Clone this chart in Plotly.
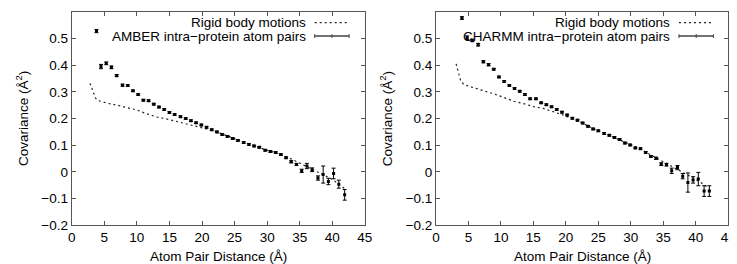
import plotly.graph_objects as go

# ---------------- data ----------------
amber_x = [3.8, 4.5, 5.3, 6.1, 6.9, 7.8, 8.6, 9.4, 10.2, 11.0, 11.8, 12.6, 13.4, 14.2, 15.0,
           15.8, 16.7, 17.5, 18.3, 19.1, 19.9, 20.7, 21.5, 22.3, 23.1, 23.9, 24.7, 25.5,
           26.4, 27.2, 28.0, 28.8, 29.7, 30.5, 31.3, 32.1, 32.9, 33.7, 34.5, 35.3, 36.1,
           36.9, 37.8, 38.6, 39.4, 40.2, 41.0, 41.9]
amber_y = [0.528, 0.395, 0.407, 0.392, 0.361, 0.325, 0.324, 0.304, 0.290, 0.269, 0.267,
           0.254, 0.243, 0.234, 0.223, 0.215, 0.207, 0.200, 0.192, 0.184, 0.176, 0.167,
           0.158, 0.150, 0.140, 0.133, 0.125, 0.118, 0.110, 0.103, 0.097, 0.092, 0.081,
           0.076, 0.073, 0.065, 0.053, 0.038, 0.028, 0.004, 0.022, 0.008, -0.023, -0.010,
           -0.036, -0.006, -0.046, -0.086]
amber_err = [0.006, 0.008, 0.005, 0.005, 0.004, 0.004, 0.003, 0.003, 0.003, 0.003, 0.003,
             0.003, 0.003, 0.003, 0.003, 0.003, 0.003, 0.003, 0.003, 0.003, 0.003, 0.003,
             0.003, 0.003, 0.003, 0.003, 0.003, 0.003, 0.003, 0.003, 0.003, 0.003, 0.003,
             0.003, 0.003, 0.003, 0.003, 0.004, 0.004, 0.006, 0.010, 0.007, 0.008, 0.032,
             0.012, 0.020, 0.015, 0.020]

charmm_x = [4.0, 4.8, 5.6, 6.5, 7.3, 8.1, 8.9, 9.7, 10.5, 11.3, 12.1, 12.9, 13.7, 14.5,
            15.4, 16.2, 17.0, 17.8, 18.6, 19.4, 20.2, 21.0, 21.8, 22.6, 23.4, 24.2, 25.0,
            25.9, 26.7, 27.5, 28.3, 29.1, 29.9, 30.7, 31.5, 32.3, 33.1, 33.9, 34.7, 35.5,
            36.3, 37.2, 38.0, 38.8, 39.6, 40.4, 41.3, 42.1]
charmm_y = [0.577, 0.503, 0.493, 0.477, 0.413, 0.402, 0.385, 0.356, 0.339, 0.324, 0.313,
            0.302, 0.290, 0.274, 0.274, 0.259, 0.252, 0.244, 0.234, 0.224, 0.213, 0.201,
            0.194, 0.183, 0.171, 0.161, 0.154, 0.144, 0.137, 0.129, 0.121, 0.108, 0.101,
            0.090, 0.087, 0.073, 0.058, 0.051, 0.029, 0.027, 0.004, 0.016, -0.016, -0.040,
            -0.030, -0.027, -0.072, -0.072]
charmm_err = [0.005, 0.007, 0.005, 0.005, 0.004, 0.004, 0.003, 0.003, 0.003, 0.003, 0.003,
              0.003, 0.003, 0.003, 0.003, 0.003, 0.003, 0.003, 0.003, 0.003, 0.003, 0.003,
              0.003, 0.003, 0.003, 0.003, 0.003, 0.003, 0.003, 0.003, 0.003, 0.003, 0.003,
              0.003, 0.003, 0.003, 0.003, 0.004, 0.005, 0.005, 0.010, 0.008, 0.010, 0.036,
              0.012, 0.025, 0.020, 0.020]

rigid_amber_x = [2.8, 3.3, 3.7, 4.3, 5.5, 7.0, 8.5, 10.0, 11.5, 13.0, 14.5, 16.0, 17.5, 19.0,
                 20.5, 22.0, 23.5, 25.0, 26.5, 28.0, 29.5, 31.0, 32.5, 34.0, 35.5, 37.0,
                 38.5, 40.0, 41.5, 42.0]
rigid_amber_y = [0.332, 0.300, 0.275, 0.266, 0.257, 0.250, 0.242, 0.232, 0.218, 0.206, 0.199,
                 0.190, 0.182, 0.172, 0.162, 0.152, 0.138, 0.124, 0.110, 0.097, 0.085, 0.074,
                 0.062, 0.045, 0.027, 0.010, -0.008, -0.028, -0.055, -0.065]

rigid_charmm_x = [3.1, 3.4, 3.8, 4.3, 5.9, 7.5, 9.0, 10.5, 12.0, 13.5, 15.0, 16.5, 18.0, 19.5,
                  21.0, 22.5, 24.0, 25.5, 27.0, 28.5, 30.0, 31.5, 33.0, 34.5, 36.0, 37.5,
                  39.0, 40.5, 42.0]
rigid_charmm_y = [0.405, 0.375, 0.342, 0.327, 0.314, 0.303, 0.292, 0.279, 0.265, 0.256, 0.245,
                  0.238, 0.227, 0.214, 0.199, 0.184, 0.165, 0.149, 0.134, 0.118, 0.100, 0.086,
                  0.065, 0.045, 0.022, 0.002, -0.018, -0.035, -0.060]

x_ticks = [0, 5, 10, 15, 20, 25, 30, 35, 40, 45]
y_ticks = [-0.2, -0.1, 0, 0.1, 0.2, 0.3, 0.4, 0.5, 0.6]
y_tick_text = ["\u22120.2", "\u22120.1", "0", "0.1", "0.2", "0.3", "0.4", "0.5", "0.6"]

labels = ["AMBER intra\u2212protein atom pairs", "CHARMM intra\u2212protein atom pairs"]
rigid_label = "Rigid body motions"

# ---------------- figure ----------------
W, H = 737, 264
FONT = "Liberation Sans, Arial, Helvetica, sans-serif"
FS = 13.5
FRAME = "#555555"

def px(x):
    return x / W

def py(y):
    return (H - y) / H

fig = go.Figure()

panels = [
    ("x", "y", rigid_amber_x, rigid_amber_y, amber_x, amber_y, amber_err),
    ("x2", "y2", rigid_charmm_x, rigid_charmm_y, charmm_x, charmm_y, charmm_err),
]
for xa, ya, rx, ry, dx, dy, de in panels:
    fig.add_trace(go.Scatter(x=rx, y=ry, mode="lines", xaxis=xa, yaxis=ya,
                             line=dict(color="#222222", width=1.2, dash="2px,3px"),
                             showlegend=False))
    fig.add_trace(go.Scatter(x=dx, y=dy, mode="markers", xaxis=xa, yaxis=ya,
                             marker=dict(symbol="square", size=3, color="black"),
                             error_y=dict(type="data", array=de, visible=True,
                                          color="black", thickness=1, width=2),
                             showlegend=False))

axis_common = dict(showline=True, linecolor=FRAME, linewidth=1, mirror="allticks",
                   ticks="inside", ticklen=4, tickcolor=FRAME, showgrid=False,
                   zeroline=False, tickfont=dict(family=FONT, size=FS, color="black"))

x_domains = [[60.7 / W, 358.7 / W], [431 / W, 728 / W]]
y_domain = [py(224), py(4)]

fig.update_layout(
    width=W, height=H,
    margin=dict(l=0, r=0, t=0, b=0),
    paper_bgcolor="white", plot_bgcolor="white",
    showlegend=False,
    xaxis=dict(domain=x_domains[0], range=[0, 45], tickvals=x_ticks, anchor="y", **axis_common),
    yaxis=dict(domain=y_domain, range=[-0.2, 0.6], tickvals=y_ticks, ticktext=y_tick_text,
               anchor="x", **axis_common),
    xaxis2=dict(domain=x_domains[1], range=[0, 45], tickvals=x_ticks, anchor="y2", **axis_common),
    yaxis2=dict(domain=y_domain, range=[-0.2, 0.6], tickvals=y_ticks, ticktext=y_tick_text,
                anchor="x2", **axis_common),
)

annotations = []
shapes = []
for i, (x0, x1) in enumerate(x_domains):
    left = x0 * W
    right = x1 * W
    cx = (left + right) / 2
    # axis titles
    annotations.append(dict(text="Atom Pair Distance (\u00c5)", x=px(cx), y=py(256),
                            xref="paper", yref="paper", xanchor="center", yanchor="middle",
                            showarrow=False, font=dict(family=FONT, size=FS, color="black")))
    annotations.append(dict(text="Covariance (\u00c5<sup>2</sup>)", x=px(left - 51), y=py(114),
                            xref="paper", yref="paper", xanchor="center", yanchor="middle",
                            textangle=-90, showarrow=False,
                            font=dict(family=FONT, size=FS, color="black")))
    # legend text (gnuplot style: right aligned, sample on the right)
    tx = left + 240
    annotations.append(dict(text=rigid_label, x=px(tx), y=py(15), xref="paper", yref="paper",
                            xanchor="right", yanchor="middle", showarrow=False,
                            font=dict(family=FONT, size=FS, color="black")))
    annotations.append(dict(text=labels[i], x=px(tx), y=py(29), xref="paper", yref="paper",
                            xanchor="right", yanchor="middle", showarrow=False,
                            font=dict(family=FONT, size=FS, color="black")))
    s0, s1 = left + 247, left + 282
    shapes.append(dict(type="line", xref="paper", yref="paper", x0=px(s0), x1=px(s1),
                       y0=py(15), y1=py(15), line=dict(color="#222222", width=1.2, dash="2px,3px")))
    shapes.append(dict(type="line", xref="paper", yref="paper", x0=px(s0), x1=px(s1),
                       y0=py(29), y1=py(29), line=dict(color="#444444", width=1.5)))
    for sx in (s0, (s0 + s1) / 2, s1):
        shapes.append(dict(type="line", xref="paper", yref="paper", x0=px(sx), x1=px(sx),
                           y0=py(27), y1=py(31), line=dict(color="#444444", width=1)))

fig.update_layout(annotations=annotations, shapes=shapes)

fig.write_html("out.html")
